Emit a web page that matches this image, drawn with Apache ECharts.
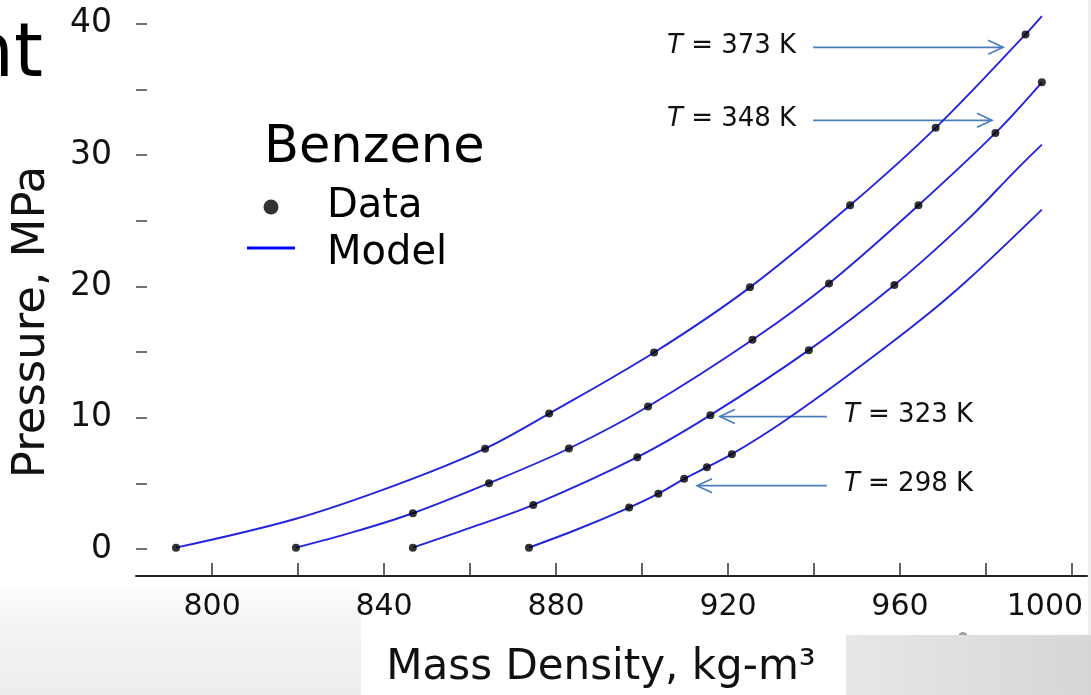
<!DOCTYPE html>
<html>
<head>
<meta charset="utf-8">
<title>Benzene: pressure vs. mass density</title>
<script src="https://cdn.jsdelivr.net/npm/echarts@6/dist/echarts.min.js"></script>
<style>
  html, body { margin: 0; padding: 0; background: #fff; }
  #main { width: 1091px; height: 695px; }
</style>
</head>
<body>
<div id="main"></div>
<script>
// Axis ticks and labels
const densityTicks = [800, 820, 840, 860, 880, 900, 920, 940, 960, 980, 1000];
const densityLabels = [800, 840, 880, 920, 960, 1000];
const pressureTicks = [0, 5, 10, 15, 20, 25, 30, 35, 40];
const pressureLabels = [0, 10, 20, 30, 40];

// Measured points [mass density kg/m3, pressure MPa]
const data298 = [[873.7, 0.1], [897.0, 3.15], [903.8, 4.21], [909.8, 5.34], [915.1, 6.23], [920.9, 7.22]];
const data323 = [[846.7, 0.1], [874.7, 3.35], [898.9, 6.99], [915.9, 10.19], [938.8, 15.14], [958.7, 20.10]];
const data348 = [[819.5, 0.1], [846.7, 2.72], [864.4, 5.01], [883.0, 7.65], [901.4, 10.85], [925.7, 15.93],
                 [943.5, 20.22], [964.3, 26.17], [982.2, 31.68], [993.0, 35.54]];
const data373 = [[791.6, 0.1], [863.5, 7.64], [878.4, 10.31], [902.8, 14.96], [925.1, 19.92], [948.4, 26.17],
                 [968.3, 32.07], [989.2, 39.18]];

// Model isotherms [mass density, pressure]
const model298 = [[873.7, 0.1], [885.0, 1.5], [897.0, 3.15], [903.8, 4.21], [909.8, 5.34], [915.1, 6.23],
                  [920.9, 7.22], [932.0, 9.5], [946.0, 12.75], [963.9, 17.2], [975.5, 20.4], [993.0, 25.84]];
const model323 = [[846.7, 0.1], [860.0, 1.6], [874.7, 3.35], [898.9, 6.99], [915.9, 10.19], [938.8, 15.14],
                  [958.7, 20.10], [975.5, 25.0], [987.1, 28.89], [993.0, 30.79]];
const model348 = [[819.5, 0.1], [833.0, 1.3], [846.7, 2.72], [864.4, 5.01], [883.0, 7.65], [901.4, 10.85],
                  [925.7, 15.93], [943.5, 20.22], [964.3, 26.17], [982.2, 31.68], [993.0, 35.54]];
const model373 = [[791.6, 0.1], [819.5, 2.3], [843.0, 4.9], [863.5, 7.64], [878.4, 10.31], [902.8, 14.96],
                  [925.1, 19.92], [948.4, 26.17], [968.3, 32.07], [989.2, 39.18], [993.0, 40.57]];

// Isotherm call-outs: arrow from `from` to `to` at pressure `y` (data units)
const isothermNotes = [
  { text: '{i|T} = 373 K', y: 38.2, from: 939.8, to: 984.0 },
  { text: '{i|T} = 348 K', y: 32.64, from: 939.8, to: 981.4 },
  { text: '{i|T} = 323 K', y: 10.08, from: 943.0, to: 918.1 },
  { text: '{i|T} = 298 K', y: 4.82, from: 943.0, to: 912.8 }
];

const FONT = 'DejaVu Sans';
const CURVE = '#2424dd';
const NOTE = '#4a7ebb';

const isotherms = [
  [model373, data373], [model348, data348], [model323, data323], [model298, data298]
];

const series = [];
isotherms.forEach(([model, pts]) => {
  series.push({
    name: 'Model', type: 'line', data: model, smooth: 0.35,
    symbol: 'none', showSymbol: false, z: 2,
    lineStyle: { color: CURVE, width: 1.9 }, itemStyle: { color: CURVE }
  });
  series.push({
    name: 'Data', type: 'scatter', data: pts, symbolSize: 8, z: 3,
    itemStyle: { color: '#000' }
  });
});

const chart = echarts.init(document.getElementById('main'));

chart.setOption({
  animation: false,
  backgroundColor: '#fff',
  textStyle: { fontFamily: FONT },
  title: {
    text: 'Benzene', left: 264, top: 123, padding: 0,
    textStyle: { fontSize: 51, fontWeight: 'normal', color: '#000', fontFamily: FONT }
  },
  legend: {
    orient: 'vertical', left: 247, top: 187, padding: 0,
    itemWidth: 48, itemHeight: 15, itemGap: 7, selectedMode: false,
    textStyle: { fontSize: 40, color: '#000', fontFamily: FONT, padding: [0, 0, 0, 27] },
    data: [
      { name: 'Data', icon: 'circle', itemStyle: { color: '#000', borderWidth: 0 } },
      // thin bar drawn toward the top of the icon box
      { name: 'Model', icon: 'path://M0,0L48,0L48,3L0,3Z M0,15L0.01,15', itemStyle: { color: '#0000ff', borderWidth: 0 } }
    ]
  },
  grid: { left: 136, right: 4, top: 4, bottom: 119 },
  xAxis: {
    type: 'value', min: 782.3, max: 1003.5,
    axisLine: { show: true, onZero: false, lineStyle: { color: '#222', width: 2 } },
    axisTick: { show: true, inside: true, length: 13, customValues: densityTicks,
                lineStyle: { color: '#333', width: 1.5 } },
    axisLabel: {
      customValues: densityLabels, margin: 16, fontSize: 30, color: '#111', fontFamily: FONT,
      formatter: v => (v === 1000 ? '{r|1000}' : String(v)),
      rich: { r: { fontSize: 30, color: '#111', fontFamily: FONT, padding: [0, 54, 0, 0] } }
    },
    splitLine: { show: false }
  },
  yAxis: {
    type: 'value', min: -2.06, max: 41.5,
    axisLine: { show: false, onZero: false },
    axisTick: { show: true, inside: true, length: 11, customValues: pressureTicks,
                lineStyle: { color: '#444', width: 1.5 } },
    axisLabel: { customValues: pressureLabels, margin: 24, fontSize: 33, color: '#111', fontFamily: FONT },
    splitLine: { show: false }
  },
  series: series
});

// Decorations, axis titles and call-outs placed through the grid's scales
const toPx = (x, y) => chart.convertToPixel({ gridIndex: 0 }, [x, y]);
const graphics = [
  { type: 'rect', z: -5, silent: true, shape: { x: 0, y: 585, width: 361, height: 110 },
    style: { fill: new echarts.graphic.LinearGradient(0, 0, 0, 1, [
      { offset: 0, color: 'rgba(240,240,240,0)' }, { offset: 0.35, color: '#f4f4f4' }, { offset: 1, color: '#ededed' }]) } },
  { type: 'circle', z: -5, silent: true, shape: { cx: 963, cy: 637, r: 5 }, style: { fill: '#a0a0a0' } },
  { type: 'rect', z: -4, silent: true, shape: { x: 846, y: 635, width: 245, height: 60 },
    style: { fill: new echarts.graphic.LinearGradient(0, 0, 1, 0, [
      { offset: 0, color: '#e7e7e7' }, { offset: 1, color: '#d6d6d6' }]) } },
  { type: 'rect', z: -5, silent: true, shape: { x: 1088, y: 0, width: 3, height: 635 }, style: { fill: '#eeeeee' } },
  { type: 'text', x: 43, y: 57, style: { text: 'nt', fontSize: 74, fontFamily: FONT, fill: '#000',
    align: 'right', verticalAlign: 'middle' } },
  { type: 'text', x: 32, y: 322, rotation: Math.PI / 2,
    style: { text: 'Pressure, MPa', fontSize: 45, fontFamily: FONT, fill: '#111', align: 'center', verticalAlign: 'middle' } },
  { type: 'text', x: 601, y: 668,
    style: { text: 'Mass Density, kg-m³', fontSize: 42, fontFamily: FONT, fill: '#111', align: 'center', verticalAlign: 'middle' } }
];

isothermNotes.forEach(n => {
  const a = toPx(n.from, n.y);
  const b = toPx(n.to, n.y);
  const d = b[0] > a[0] ? 1 : -1;
  graphics.push({ type: 'line', shape: { x1: a[0], y1: a[1], x2: b[0], y2: b[1] },
    style: { stroke: NOTE, lineWidth: 1.6 } });
  graphics.push({ type: 'polyline',
    shape: { points: [[b[0] - d * 15, b[1] - 7], [b[0], b[1]], [b[0] - d * 15, b[1] + 7]] },
    style: { stroke: NOTE, lineWidth: 1.6, fill: null } });
  graphics.push({ type: 'text', x: a[0] - d * 17, y: a[1] - 1,
    style: { text: n.text, fontSize: 26, fontFamily: FONT, fill: '#111',
      align: d > 0 ? 'right' : 'left', verticalAlign: 'middle',
      rich: { i: { fontStyle: 'italic', fontSize: 26, fontFamily: FONT, fill: '#111' } } } });
});

chart.setOption({ graphic: graphics });
</script>
</body>
</html>
